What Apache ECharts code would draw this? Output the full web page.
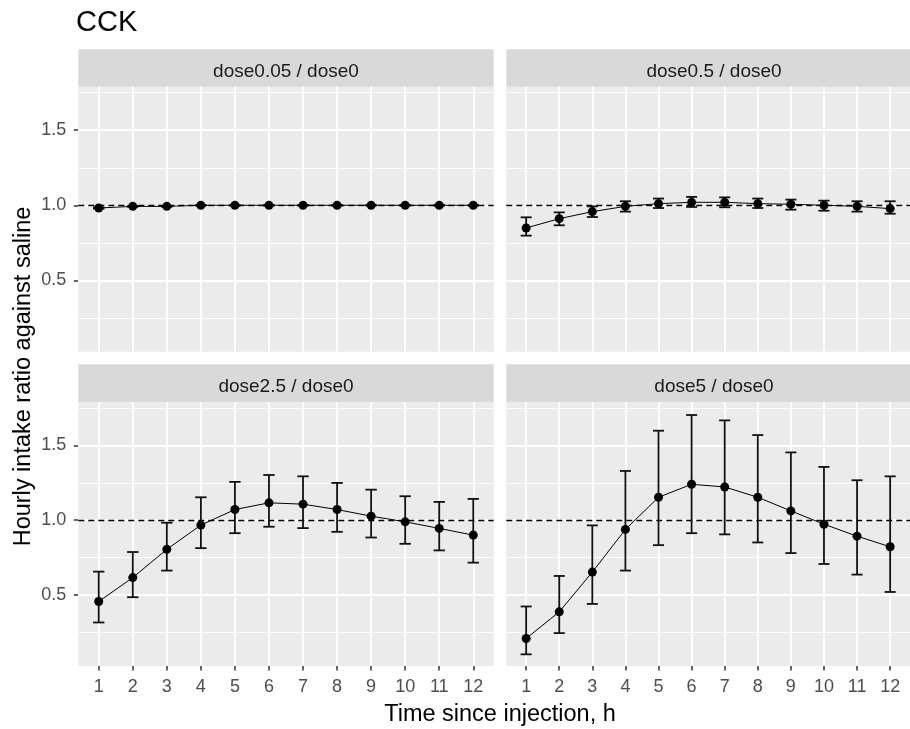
<!DOCTYPE html>
<html>
<head>
<meta charset="utf-8">
<title>CCK</title>
<script src="https://cdn.jsdelivr.net/npm/echarts@6/dist/echarts.min.js"></script>
<style>
  html, body { margin: 0; padding: 0; background: #fff; }
  #main { width: 910px; height: 729px; }
</style>
</head>
<body>
<div id="main"></div>
<script>
// ---- data ----
var hours = [1, 2, 3, 4, 5, 6, 7, 8, 9, 10, 11, 12];
var panelNames = ['dose0.05 / dose0', 'dose0.5 / dose0', 'dose2.5 / dose0', 'dose5 / dose0'];
var yTicks = [0.5, 1.0, 1.5];
var yMinor = [0.25, 0.75, 1.25, 1.75];
var refValue = 1.0;

var mean005 = [0.982, 0.993, 0.993, 1.0, 1.0, 1.0, 1.0, 1.0, 1.0, 1.0, 1.0, 1.0];
var lo005   = [0.978, 0.990, 0.990, 0.997, 0.997, 0.997, 0.997, 0.997, 0.997, 0.997, 0.997, 0.997];
var hi005   = [0.986, 0.996, 0.996, 1.003, 1.003, 1.003, 1.003, 1.003, 1.003, 1.003, 1.003, 1.003];

var mean05 = [0.849, 0.911, 0.958, 0.993, 1.011, 1.020, 1.020, 1.011, 1.007, 1.000, 0.993, 0.978];
var lo05   = [0.798, 0.867, 0.922, 0.958, 0.982, 0.989, 0.987, 0.982, 0.971, 0.964, 0.958, 0.944];
var hi05   = [0.920, 0.953, 0.993, 1.027, 1.045, 1.056, 1.053, 1.045, 1.038, 1.031, 1.027, 1.027];

var mean25 = [0.456, 0.616, 0.805, 0.967, 1.071, 1.116, 1.107, 1.071, 1.027, 0.989, 0.945, 0.900];
var lo25   = [0.316, 0.485, 0.663, 0.813, 0.913, 0.956, 0.947, 0.922, 0.884, 0.842, 0.798, 0.716];
var hi25   = [0.656, 0.787, 0.983, 1.153, 1.256, 1.302, 1.293, 1.249, 1.204, 1.160, 1.122, 1.142];

var mean5 = [0.209, 0.387, 0.653, 0.938, 1.153, 1.240, 1.222, 1.153, 1.062, 0.973, 0.893, 0.822];
var lo5   = [0.103, 0.245, 0.440, 0.663, 0.833, 0.913, 0.905, 0.851, 0.780, 0.707, 0.636, 0.520];
var hi5   = [0.423, 0.627, 0.965, 1.329, 1.598, 1.703, 1.667, 1.569, 1.453, 1.356, 1.267, 1.293];

var means = [mean005, mean05, mean25, mean5];
var lows = [lo005, lo05, lo25, lo5];
var highs = [hi005, hi05, hi25, hi5];

// ---- layout ----
var FONT = 'Liberation Sans, Arial, sans-serif';
var panels = [
  {left: 78.3, top: 86.7, width: 415.4, height: 265, stripTop: 49.3, bottomRow: false, leftCol: true},
  {left: 506.3, top: 86.7, width: 415.4, height: 265, stripTop: 49.3, bottomRow: false, leftCol: false},
  {left: 78.3, top: 402, width: 415.4, height: 264, stripTop: 364.3, bottomRow: true, leftCol: true},
  {left: 506.3, top: 402, width: 415.4, height: 264, stripTop: 364.3, bottomRow: true, leftCol: false}
];
var X_MIN = 0.4, X_MAX = 12.6, Y_MIN = 0.025, Y_MAX = 1.79;

var chart = echarts.init(document.getElementById('main'), null, {renderer: 'canvas'});

var grids = [], xAxes = [], yAxes = [], series = [], graphics = [];

function errorBarItem(params, api) {
  var x = api.value(0), lo = api.value(1), hi = api.value(2);
  var pLo = api.coord([x, lo]);
  var pHi = api.coord([x, hi]);
  var hw = api.size([1, 0])[0] * 0.167;
  var st = {stroke: '#111', lineWidth: 1.8};
  return {
    type: 'group',
    children: [
      {type: 'line', shape: {x1: pLo[0], y1: pLo[1], x2: pHi[0], y2: pHi[1]}, style: st},
      {type: 'line', shape: {x1: pHi[0] - hw, y1: pHi[1], x2: pHi[0] + hw, y2: pHi[1]}, style: st},
      {type: 'line', shape: {x1: pLo[0] - hw, y1: pLo[1], x2: pLo[0] + hw, y2: pLo[1]}, style: st}
    ]
  };
}

for (var i = 0; i < panels.length; i++) {
  var p = panels[i];
  grids.push({
    left: p.left, top: p.top, width: p.width, height: p.height,
    show: true, backgroundColor: '#EBEBEB', borderWidth: 0, containLabel: false
  });
  xAxes.push({
    type: 'value', gridIndex: i, min: X_MIN, max: X_MAX,
    axisLine: {show: false},
    splitLine: {show: false},
    axisTick: {show: p.bottomRow, customValues: hours, length: 4.5, lineStyle: {color: '#333', width: 1.5}},
    axisLabel: {show: p.bottomRow, customValues: hours, margin: 12, fontSize: 18, color: '#4D4D4D', fontFamily: FONT}
  });
  yAxes.push({
    type: 'value', gridIndex: i, min: Y_MIN, max: Y_MAX,
    axisLine: {show: false},
    splitLine: {show: false},
    axisTick: {show: p.leftCol, customValues: yTicks, length: 4.5, lineStyle: {color: '#333', width: 1.5}},
    axisLabel: {
      show: p.leftCol, customValues: yTicks, margin: 12, fontSize: 18, color: '#4D4D4D', fontFamily: FONT,
      formatter: function (v) { return v.toFixed(1); }
    }
  });

  var mlData = [];
  yMinor.forEach(function (v) { mlData.push({yAxis: v, lineStyle: {color: '#fff', width: 0.9, type: 'solid'}}); });
  hours.forEach(function (v) { mlData.push({xAxis: v, lineStyle: {color: '#fff', width: 1.8, type: 'solid'}}); });
  yTicks.forEach(function (v) { mlData.push({yAxis: v, lineStyle: {color: '#fff', width: 1.8, type: 'solid'}}); });
  mlData.push({yAxis: refValue, lineStyle: {color: '#000', width: 1.4, type: [6, 4]}});

  // grid lines + reference line (kept under the data)
  series.push({
    type: 'line', xAxisIndex: i, yAxisIndex: i, z: 1, silent: true, animation: false,
    data: hours.map(function (h, k) { return [h, means[i][k]]; }),
    symbol: 'none', lineStyle: {opacity: 0},
    markLine: {
      z: 1, silent: true, symbol: ['none', 'none'], label: {show: false}, animation: false,
      data: mlData
    }
  });

  // error bars
  series.push({
    type: 'custom', xAxisIndex: i, yAxisIndex: i, z: 3, silent: true, animation: false,
    renderItem: errorBarItem,
    encode: {x: 0, y: [1, 2]},
    data: hours.map(function (h, k) { return [h, lows[i][k], highs[i][k]]; })
  });

  // line + points
  series.push({
    type: 'line', xAxisIndex: i, yAxisIndex: i, z: 4, animation: false,
    data: hours.map(function (h, k) { return [h, means[i][k]]; }),
    symbol: 'circle', symbolSize: 9,
    itemStyle: {color: '#000'},
    lineStyle: {color: '#000', width: 1}
  });

  // facet strip
  graphics.push({
    type: 'rect', left: p.left, top: p.stripTop,
    shape: {width: p.width, height: p.top - p.stripTop},
    style: {fill: '#D9D9D9'}
  });
  graphics.push({
    type: 'text', x: p.left + p.width / 2, y: p.stripTop + 22,
    style: {text: panelNames[i], font: '19px ' + FONT, fill: '#1A1A1A', align: 'center', verticalAlign: 'middle'}
  });
}

graphics.push({
  type: 'text', x: 76, y: 23,
  style: {text: 'CCK', font: '29px ' + FONT, fill: '#000', align: 'left', verticalAlign: 'middle'}
});
graphics.push({
  type: 'text', x: 500, y: 714.5,
  style: {text: 'Time since injection, h', font: '23.5px ' + FONT, fill: '#000', align: 'center', verticalAlign: 'middle'}
});
graphics.push({
  type: 'text', x: 24, y: 376.5, rotation: Math.PI / 2,
  style: {text: 'Hourly intake ratio against saline', font: '23.5px ' + FONT, fill: '#000', align: 'center', verticalAlign: 'middle'}
});

chart.setOption({
  backgroundColor: '#fff',
  animation: false,
  grid: grids,
  xAxis: xAxes,
  yAxis: yAxes,
  series: series,
  graphic: graphics
});
</script>
</body>
</html>
